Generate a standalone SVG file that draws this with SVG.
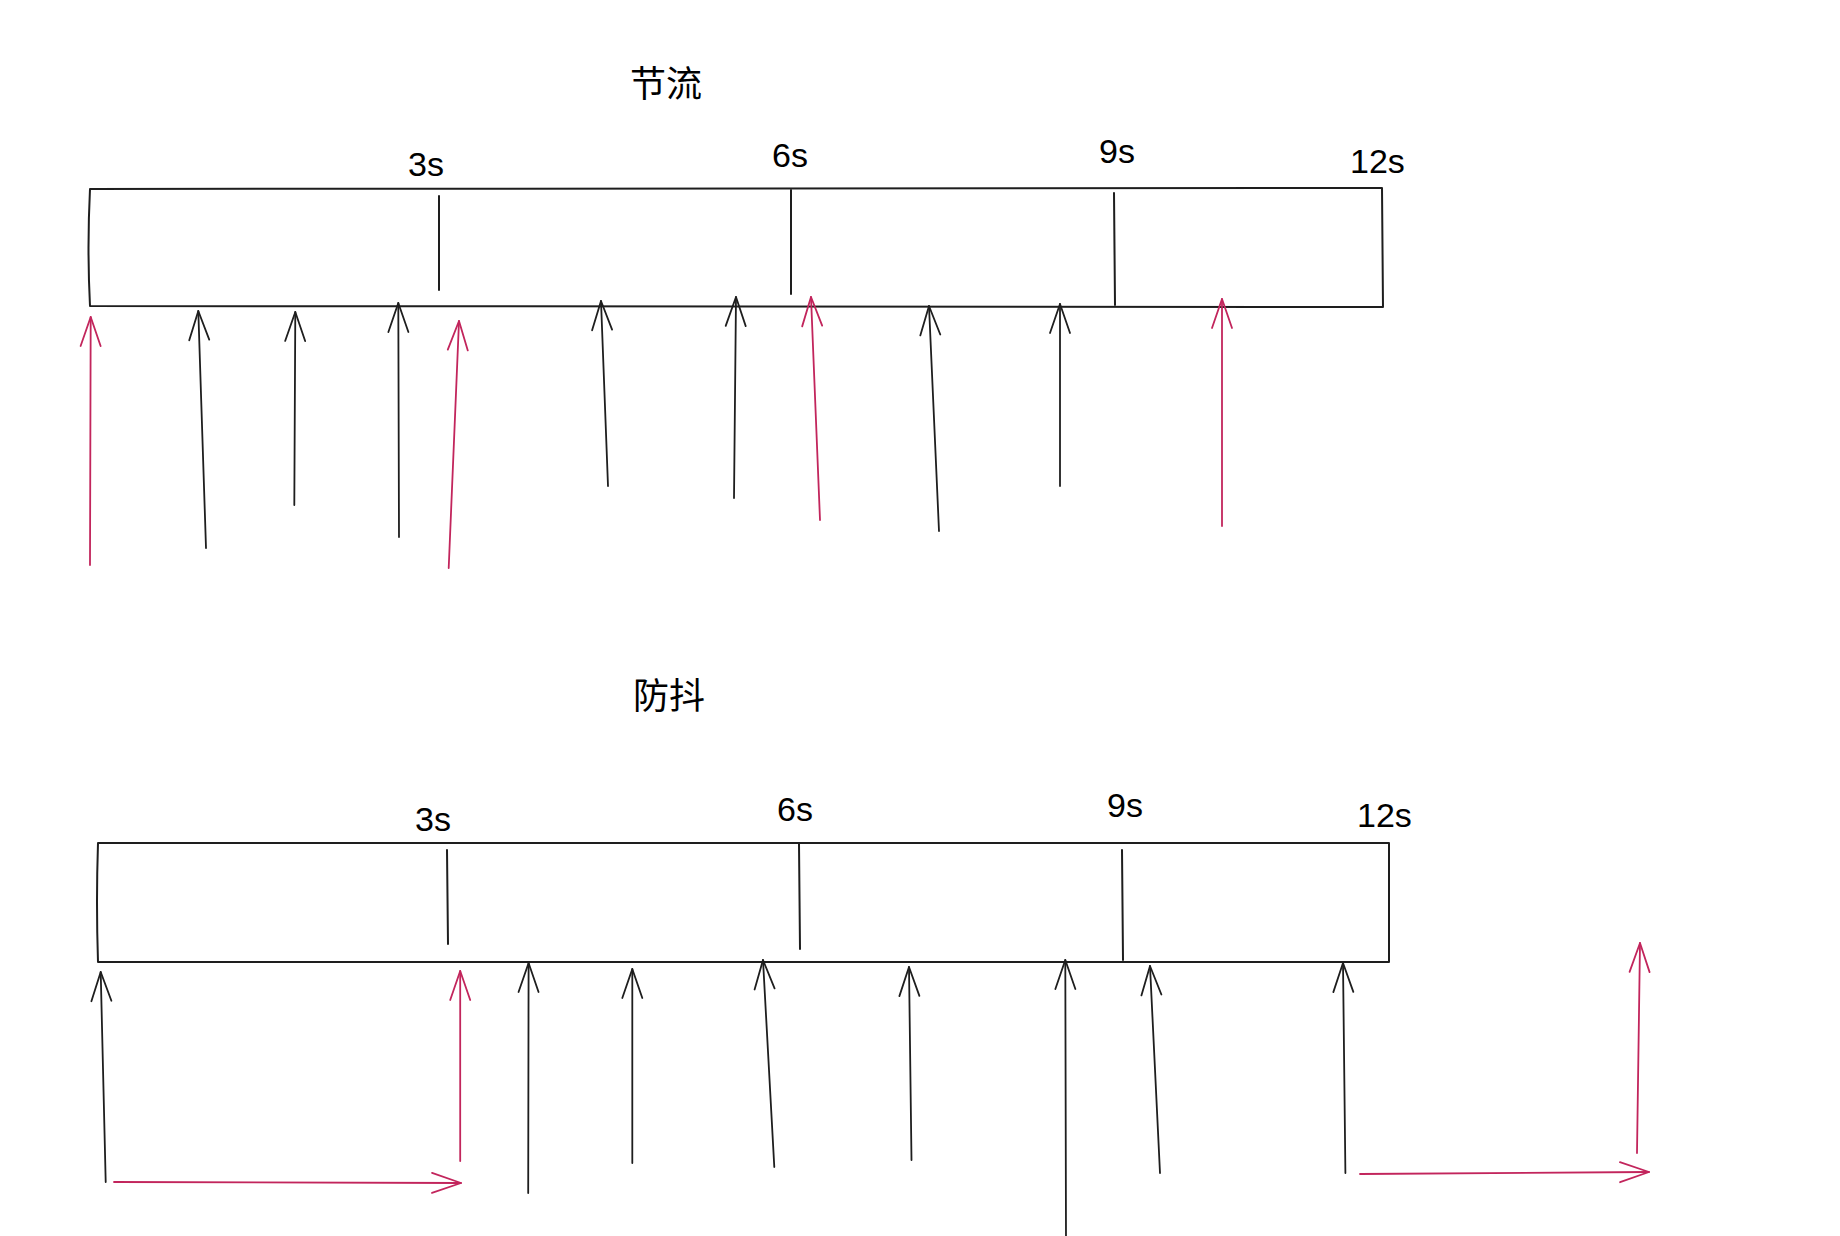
<svg xmlns="http://www.w3.org/2000/svg" width="1840" height="1236" viewBox="0 0 1840 1236">
<style>
.box{fill:none;stroke:#1e1e1e;stroke-width:2;stroke-linejoin:round;stroke-linecap:round}
.div{fill:none;stroke:#1e1e1e;stroke-width:2;stroke-linecap:round}
.lbl{font-family:"Liberation Sans",Arial,sans-serif;font-size:34px;fill:#000}
.ttl{font-family:"Liberation Sans","Noto Sans CJK SC",sans-serif;font-size:36px;fill:#000}
.ab{fill:none;stroke:#1e1e1e;stroke-width:1.8;stroke-linecap:round;marker-end:url(#hb)}
.ar{fill:none;stroke:#c2255c;stroke-width:1.8;stroke-linecap:round;marker-end:url(#hr)}
</style>
<defs>
<marker id="hb" markerUnits="userSpaceOnUse" viewBox="-32 -14 36 28" refX="0" refY="0" markerWidth="36" markerHeight="28" orient="auto">
<path d="M-29,-10 L0,0 L-29,10" fill="none" stroke="#1e1e1e" stroke-width="1.8" stroke-linecap="round" stroke-linejoin="round"/>
</marker>
<marker id="hr" markerUnits="userSpaceOnUse" viewBox="-32 -14 36 28" refX="0" refY="0" markerWidth="36" markerHeight="28" orient="auto">
<path d="M-29,-10 L0,0 L-29,10" fill="none" stroke="#c2255c" stroke-width="1.8" stroke-linecap="round" stroke-linejoin="round"/>
</marker>
</defs>
<rect width="1840" height="1236" fill="#fff"/>

<g id="throttle">
<text class="ttl" x="630" y="97">节流</text>
<path class="box" d="M90,189 L1382,188 L1383,307 L90,306 Q87,248 90,189 Z"/>
<line class="div" x1="439" y1="196" x2="439" y2="290"/>
<line class="div" x1="791" y1="190" x2="791" y2="294"/>
<line class="div" x1="1114" y1="193" x2="1115" y2="305"/>
<text class="lbl" x="408" y="176">3s</text>
<text class="lbl" x="772" y="167">6s</text>
<text class="lbl" x="1099" y="163">9s</text>
<text class="lbl" x="1350" y="173">12s</text>
</g>

<g id="debounce">
<text class="ttl" x="633" y="709">防抖</text>
<path class="box" d="M98,843 L1389,843 L1389,962 L98,962 Q96,902 98,843 Z"/>
<line class="div" x1="447" y1="850" x2="448" y2="944"/>
<line class="div" x1="799" y1="844" x2="800" y2="949"/>
<line class="div" x1="1122" y1="850" x2="1123" y2="960"/>
<text class="lbl" x="415" y="831">3s</text>
<text class="lbl" x="777" y="821">6s</text>
<text class="lbl" x="1107" y="817">9s</text>
<text class="lbl" x="1357" y="827">12s</text>
</g>

<g id="connectors">
<path class="ar" d="M90,565 L90.7,317"/>
<path class="ab" d="M206,548 L198.3,311"/>
<path class="ab" d="M294.3,505 L295.3,312"/>
<path class="ab" d="M399,537 L398.3,303"/>
<path class="ar" d="M448.7,568 L459,321"/>
<path class="ab" d="M608,486 L601,301"/>
<path class="ab" d="M734,498 L736,297"/>
<path class="ar" d="M820,520 L811,297"/>
<path class="ab" d="M939,531 L929,306"/>
<path class="ab" d="M1060,486 L1060,304"/>
<path class="ar" d="M1222,526 L1222,299"/>

<path class="ab" d="M105.7,1182 L100.7,972"/>
<path class="ar" d="M114,1182 L461,1183"/>
<path class="ar" d="M460.2,1161 L460.2,971"/>
<path class="ab" d="M528.2,1193 L528.6,963"/>
<path class="ab" d="M632.3,1163 L632.3,969"/>
<path class="ab" d="M774.3,1167 L763,960"/>
<path class="ab" d="M911.5,1160 L909,967"/>
<path class="ab" d="M1066,1236 L1065.3,960"/>
<path class="ab" d="M1160,1173 L1150,966"/>
<path class="ab" d="M1345.4,1173 L1343,963"/>
<path class="ar" d="M1360,1174 L1649,1172"/>
<path class="ar" d="M1637,1153 L1640,943"/>
</g>
</svg>
